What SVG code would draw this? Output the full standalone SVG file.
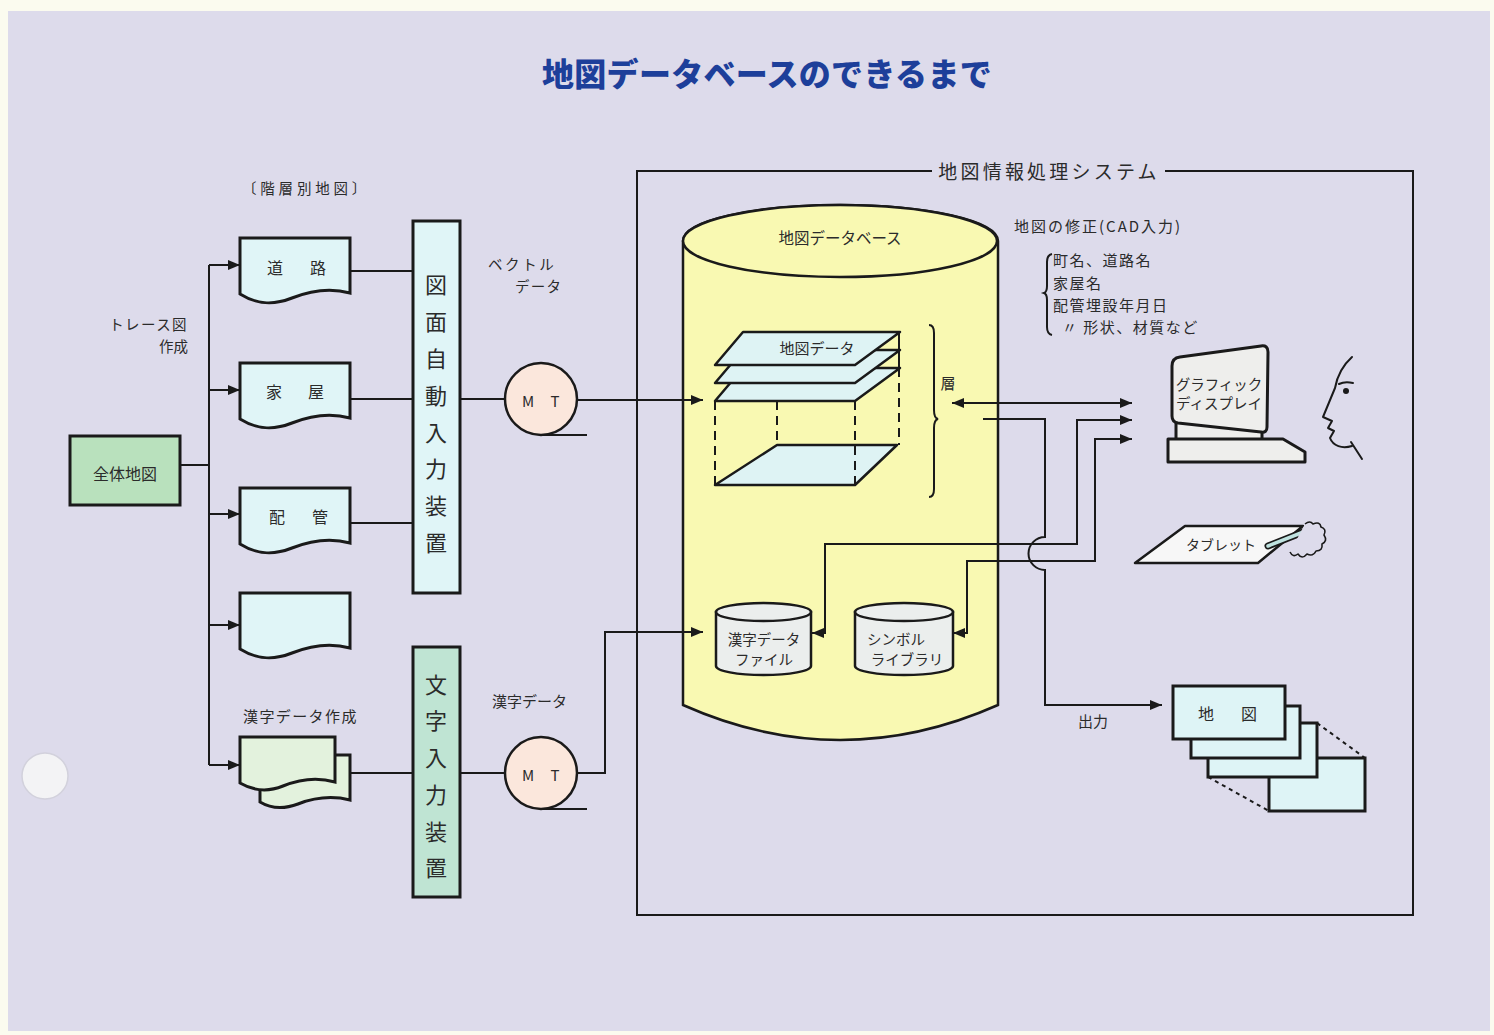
<svg xmlns="http://www.w3.org/2000/svg" width="1494" height="1035" viewBox="0 0 1494 1035">
  <defs>
    <style>
      .t { font-family: "Noto Sans CJK JP", "Noto Sans", sans-serif; fill: #2b2b2b; dominant-baseline: central; }
      .c { text-anchor: middle; }
      .ln { fill: none; stroke: #1a1a1a; stroke-width: 2; }
      .doc { fill: #e0f5f7; stroke: #1a1a1a; stroke-width: 3; }
      .docg { fill: #e3f2dd; stroke: #1a1a1a; stroke-width: 3; }
      .box { stroke: #1a1a1a; stroke-width: 3; }
      .plate { fill: #def3f4; stroke: #1a1a1a; stroke-width: 2.5; stroke-linejoin: round; }
      .dash { fill: none; stroke: #1a1a1a; stroke-width: 2; stroke-dasharray: 9 6; }
      .dev { fill: #eeeeec; stroke: #1a1a1a; stroke-width: 3; stroke-linejoin: round; }
    </style>
    <marker id="arr" viewBox="0 0 12 10" refX="12" refY="5" markerWidth="12" markerHeight="10" markerUnits="userSpaceOnUse" orient="auto-start-reverse">
      <path d="M0,0 L12,5 L0,10 Z" fill="#1a1a1a"/>
    </marker>
    <path id="docShape" d="M0,0 H110 V55 C92,50 72,52 52,60 C32,68 16,66 0,56 Z"/>
  </defs>

  <!-- sheet -->
  <rect x="0" y="0" width="1494" height="1035" fill="#fbfbef"/>
  <rect x="8" y="11" width="1482" height="1020" fill="#dddbeb"/>
  <circle cx="45" cy="776" r="23" fill="#f3f3f5" stroke="#d2d1dc" stroke-width="1.5"/>

  <!-- title -->
  <text class="t c" x="767" y="72" font-size="32" font-weight="900" letter-spacing="0.3" style="fill:#1d3f9a">地図データベースのできるまで</text>

  <!-- free labels -->
  <text class="t" x="242" y="187" font-size="14.5" letter-spacing="3.8">〔階層別地図〕</text>
  <text class="t" x="188" y="323" font-size="14.5" letter-spacing="1.4" text-anchor="end">トレース図</text>
  <text class="t" x="188" y="345" font-size="14.5" text-anchor="end">作成</text>
  <text class="t" x="488" y="263" font-size="14.5" letter-spacing="2.6">ベクトル</text>
  <text class="t" x="515" y="285" font-size="14.5" letter-spacing="1.2">データ</text>
  <text class="t" x="243" y="715" font-size="15" letter-spacing="1.4">漢字データ作成</text>
  <text class="t" x="492" y="700" font-size="15">漢字データ</text>
  <text class="t" x="1078" y="720" font-size="15">出力</text>

  <!-- system frame -->
  <g id="system-frame">
    <path class="ln" d="M932,171 H637 V915 H1413 V171 H1165"/>
    <text class="t c" x="1049" y="170" font-size="19" letter-spacing="3.2">地図情報処理システム</text>
  </g>

  <!-- overall map -->
  <g id="overall-map">
    <rect class="box" x="70" y="436" width="110" height="69" fill="#b9e1bd"/>
    <text class="t c" x="125" y="473" font-size="16">全体地図</text>
  </g>

  <!-- layered source maps -->
  <g id="doc-road" transform="translate(240,238)">
    <use href="#docShape" class="doc"/>
    <text class="t c" font-size="16" y="29"><tspan x="35">道</tspan><tspan x="78">路</tspan></text>
  </g>
  <g id="doc-house" transform="translate(240,363)">
    <use href="#docShape" class="doc"/>
    <text class="t c" font-size="16" y="28"><tspan x="34">家</tspan><tspan x="76">屋</tspan></text>
  </g>
  <g id="doc-pipe" transform="translate(240,488)">
    <use href="#docShape" class="doc"/>
    <text class="t c" font-size="16" y="28"><tspan x="37">配</tspan><tspan x="80">管</tspan></text>
  </g>
  <g id="doc-blank" transform="translate(240,593)">
    <use href="#docShape" class="doc"/>
  </g>
  <g id="doc-kanji">
    <path class="docg" d="M260,755 H350 V800 C334,796 316,797 298,804 C282,810 270,808 260,802 Z"/>
    <path class="docg" d="M240,737 H335 V782 C318,777 300,779 283,786 C266,793 252,790 240,783 Z"/>
  </g>

  <!-- input devices -->
  <g id="drawing-input">
    <rect class="box" x="413" y="221" width="47" height="372" fill="#e0f5f7"/>
    <g class="t c" font-size="22">
      <text x="436" y="283">図</text>
      <text x="436" y="320">面</text>
      <text x="436" y="357">自</text>
      <text x="436" y="394">動</text>
      <text x="436" y="431">入</text>
      <text x="436" y="467">力</text>
      <text x="436" y="504">装</text>
      <text x="436" y="541">置</text>
    </g>
  </g>
  <g id="text-input">
    <rect class="box" x="413" y="647" width="47" height="250" fill="#bfe4d3"/>
    <g class="t c" font-size="22">
      <text x="436" y="683">文</text>
      <text x="436" y="719">字</text>
      <text x="436" y="756">入</text>
      <text x="436" y="793">力</text>
      <text x="436" y="830">装</text>
      <text x="436" y="866">置</text>
    </g>
  </g>

  <!-- magnetic tapes -->
  <g id="mt-vector">
    <path class="ln" d="M541,435 H587" stroke-width="2.5"/>
    <circle cx="541" cy="399" r="36" fill="#fbe7dc" stroke="#1a1a1a" stroke-width="2.5"/>
    <text class="t c" font-size="15" y="400"><tspan x="528">M</tspan><tspan x="555">T</tspan></text>
  </g>
  <g id="mt-kanji">
    <path class="ln" d="M541,809 H587" stroke-width="2.5"/>
    <circle cx="541" cy="773" r="36" fill="#fbe7dc" stroke="#1a1a1a" stroke-width="2.5"/>
    <text class="t c" font-size="15" y="774"><tspan x="528">M</tspan><tspan x="555">T</tspan></text>
  </g>

  <!-- map database cylinder -->
  <g id="map-database">
    <path d="M683,241 A157,36 0 0 1 998,241 V705 Q840,775 683,705 Z" fill="#f9f9b2" stroke="#1a1a1a" stroke-width="2.5"/>
    <ellipse cx="840" cy="241" rx="157" ry="36" fill="#f9f9b2" stroke="#1a1a1a" stroke-width="2.5"/>
    <text class="t c" x="840" y="237" font-size="15.5">地図データベース</text>
  </g>

  <!-- map data layers -->
  <g id="map-layers">
    <path class="plate" d="M777,445 H897 L855,485 H715 Z"/>
    <path class="dash" d="M715,401 V485 M855,401 V485 M777,401 V445 M899,368 V445"/>
    <path class="ln" d="M899,332 V368" stroke-width="2.5"/>
    <path class="plate" d="M743,368 H900 L855,401 H715 Z"/>
    <path class="plate" d="M743,350 H900 L855,383 H715 Z"/>
    <path class="plate" d="M743,332 H900 L855,365 H715 Z"/>
    <text class="t c" x="817" y="347" font-size="15">地図データ</text>
    <path class="ln" d="M929,325 Q934,325 934,333 V410 Q934,418 938,419 Q934,420 934,428 V489 Q934,497 929,497" stroke-width="1.5"/>
    <text class="t c" x="948" y="382" font-size="15">層</text>
  </g>

  <!-- kanji data file -->
  <g id="kanji-file">
    <path d="M716,612 V666 A47.5,9 0 0 0 811,666 V612 Z" fill="#ebeeed" stroke="#1a1a1a" stroke-width="2.5"/>
    <ellipse cx="763.5" cy="612" rx="47.5" ry="9" fill="#ebeeed" stroke="#1a1a1a" stroke-width="2.5"/>
    <text class="t c" x="764" y="638" font-size="14.5">漢字データ</text>
    <text class="t c" x="764" y="658" font-size="14.5">ファイル</text>
  </g>

  <!-- symbol library -->
  <g id="symbol-library">
    <path d="M855,612 V666 A49,9 0 0 0 953,666 V612 Z" fill="#ebeeed" stroke="#1a1a1a" stroke-width="2.5"/>
    <ellipse cx="904" cy="612" rx="49" ry="9" fill="#ebeeed" stroke="#1a1a1a" stroke-width="2.5"/>
    <text class="t c" x="896" y="638" font-size="14.5">シンボル</text>
    <text class="t c" x="907" y="658" font-size="14.5">ライブラリ</text>
  </g>

  <!-- CAD correction note -->
  <g id="cad-note">
    <text class="t" x="1014" y="225" font-size="15" letter-spacing="2">地図の修正(CAD入力)</text>
    <path class="ln" d="M1052,254 Q1047,255 1047,262 V286 Q1047,292 1044,293 Q1047,294 1047,300 V327 Q1047,334 1052,335" stroke-width="1.3"/>
    <text class="t" x="1053" y="259" font-size="15" letter-spacing="1.5">町名、道路名</text>
    <text class="t" x="1053" y="282" font-size="15" letter-spacing="1.5">家屋名</text>
    <text class="t" x="1053" y="304" font-size="15" letter-spacing="1.5">配管埋設年月日</text>
    <text class="t" x="1062" y="326" font-size="15" letter-spacing="1.5">〃 形状、材質など</text>
  </g>

  <!-- graphic display -->
  <g id="graphic-display">
    <rect class="dev" x="1176" y="420" width="86" height="21"/>
    <path class="dev" d="M1168,439 H1283 L1305,452 V462 H1168 Z"/>
    <path class="dev" d="M1172,366 Q1172,358 1180,357 L1261,346 Q1268,345 1268,352 L1267,427 Q1267,433 1261,432 L1178,423 Q1172,422 1172,416 Z"/>
    <text class="t c" x="1219" y="383" font-size="14.5">グラフィック</text>
    <text class="t c" x="1219" y="402" font-size="14.5">ディスプレイ</text>
  </g>

  <!-- operator -->
  <g id="operator" fill="none" stroke="#1a1a1a" stroke-width="2" stroke-linecap="round" stroke-linejoin="round">
    <path d="M1352,357 C1342,366 1337,377 1335,388 L1323,417 L1332,421 L1328,428 L1334,431 L1330,438 C1333,446 1342,449 1352,446"/>
    <path d="M1351,442 L1362,459"/>
    <path d="M1339,384 Q1345,381 1353,383"/>
    <circle cx="1346" cy="391" r="3" fill="#1a1a1a" stroke="none"/>
  </g>

  <!-- tablet -->
  <g id="tablet">
    <path d="M1185,526 H1303 L1258,563 H1135 Z" fill="#f7f7f7" stroke="#1a1a1a" stroke-width="2.5" stroke-linejoin="round"/>
    <text class="t c" x="1221" y="544" font-size="14">タブレット</text>
    <path d="M1268,546 L1306,531" stroke="#1a1a1a" stroke-width="7" stroke-linecap="round"/>
    <path d="M1268,546 L1306,531" stroke="#bfe3e0" stroke-width="3.5" stroke-linecap="round"/>
    <path d="M1290,552 q3,6 8,2 q4,6 9,0 q6,3 9,-3 q7,0 6,-7 q6,-3 2,-9 q3,-6 -3,-8 q-1,-6 -8,-3 q-3,-4 -8,0" fill="#dddbeb" stroke="#1a1a1a" stroke-width="1.6" stroke-linejoin="round"/>
  </g>

  <!-- output maps -->
  <g id="output-maps">
    <path d="M1317,723 L1365,758 M1208,777 L1269,811" stroke="#1a1a1a" stroke-width="2" stroke-dasharray="4 4"/>
    <rect x="1269" y="758" width="96" height="53" fill="#def4f6" stroke="#1a1a1a" stroke-width="3"/>
    <rect x="1208" y="723" width="109" height="54" fill="#def4f6" stroke="#1a1a1a" stroke-width="3"/>
    <rect x="1191" y="706" width="109" height="52" fill="#def4f6" stroke="#1a1a1a" stroke-width="3"/>
    <rect x="1173" y="686" width="112" height="53" fill="#def4f6" stroke="#1a1a1a" stroke-width="3"/>
    <text class="t c" font-size="16" y="713"><tspan x="1206">地</tspan><tspan x="1249">図</tspan></text>
  </g>

  <!-- connectors -->
  <g id="connectors" class="ln">
    <path d="M180,465 H209"/>
    <path d="M209,265 V765"/>
    <path d="M209,265 H240" marker-end="url(#arr)"/>
    <path d="M209,390 H240" marker-end="url(#arr)"/>
    <path d="M209,514 H240" marker-end="url(#arr)"/>
    <path d="M209,625 H240" marker-end="url(#arr)"/>
    <path d="M209,765 H240" marker-end="url(#arr)"/>
    <path d="M350,271 H413"/>
    <path d="M350,399 H413"/>
    <path d="M350,523 H413"/>
    <path d="M350,773 H413"/>
    <path d="M460,399 H505"/>
    <path d="M460,773 H505"/>
    <path d="M577,400 H703" marker-end="url(#arr)"/>
    <path d="M577,773 H605 V632 H703" marker-end="url(#arr)"/>
    <path d="M952,403 H1132" marker-start="url(#arr)" marker-end="url(#arr)"/>
    <path d="M812,633 H825 V544 H1077 V420 H1132" marker-start="url(#arr)" marker-end="url(#arr)"/>
    <path d="M953,633 H967 V561 H1095 V439 H1132" marker-start="url(#arr)" marker-end="url(#arr)"/>
    <path d="M983,419 H1045 V537 A16.5,16.5 0 0 0 1045,570 V705 H1162" marker-end="url(#arr)"/>
  </g>
</svg>
